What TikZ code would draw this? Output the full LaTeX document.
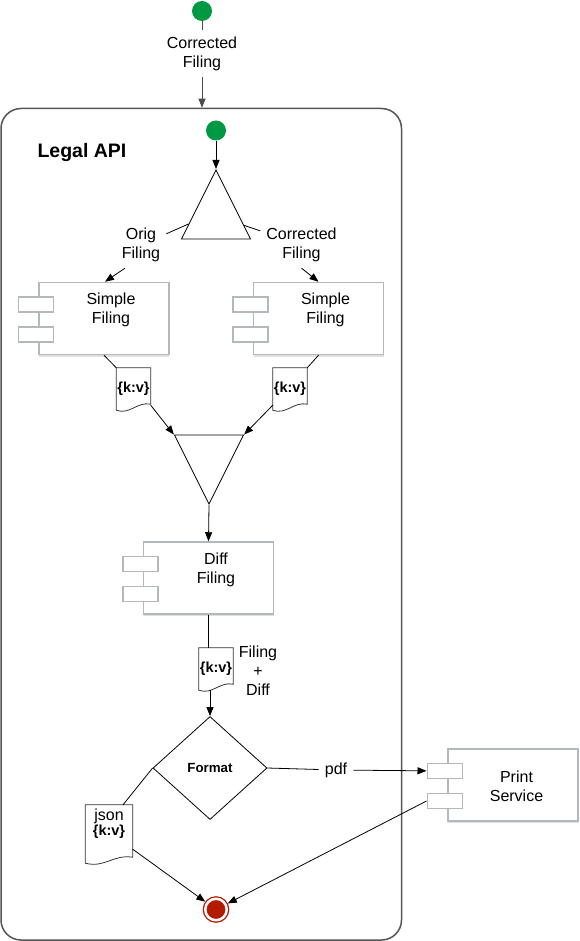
\documentclass[tikz,border=0pt]{standalone}
\usepackage{fontspec}
\setmainfont{Liberation Sans}
\usepackage{tikz}
\usetikzlibrary{arrows.meta,positioning,calc,shapes.geometric,shadows}
\definecolor{startgreen}{HTML}{009943}
\definecolor{endred}{HTML}{B41A00}
\definecolor{boxgray}{HTML}{B3B8BD}
\definecolor{framegray}{HTML}{555555}
\tikzset{
  >={Triangle[length=9pt,width=7pt]},
  startdot/.style={circle, fill=startgreen, minimum size=20pt, inner sep=0pt},
  stopdot/.style={circle, fill=endred, draw=endred, double=white, double distance=2.5pt, line width=1.3pt, minimum size=21.5pt, inner sep=0pt, outer sep=2.5pt},
  comp/.style={draw=boxgray, fill=white, line width=1.5pt, minimum width=130pt, minimum height=72pt, inner sep=0pt,
    drop shadow={shadow xshift=0pt, shadow yshift=-2pt, fill=black!12, opacity=1}},
  port/.style={draw=boxgray, fill=white, line width=1.5pt, minimum width=35pt, minimum height=15pt, inner sep=0pt},
  comptext/.style={align=center, font=\fontsize{16}{19}\selectfont, inner sep=0pt},
  lbl/.style={align=center, font=\fontsize{16}{19}\selectfont, inner sep=6pt},
  docnode/.style={minimum width=34pt, minimum height=42pt, inner sep=0pt, align=center, font=\bfseries\fontsize{14.5}{17}\selectfont},
  docline/.style={draw=black!80, line width=0.8pt},
  tri/.style={isosceles triangle, isosceles triangle stretches, draw, line width=0.8pt, minimum width=69pt, minimum height=69pt, inner sep=0pt},
  decide/.style={diamond, draw, line width=0.8pt, minimum width=114pt, minimum height=103pt, inner sep=0pt, font=\bfseries\fontsize{13.3}{16}\selectfont},
  link/.style={line width=0.8pt},
  flow/.style={->, line width=0.8pt},
}
\begin{document}
\begin{tikzpicture}[x=1pt, y=-1pt]
  \useasboundingbox (0,0) rectangle (579,941);

  % outer frame
  \node[draw=framegray, line width=1.5pt, rounded corners=20pt, minimum width=400.5pt, minimum height=831.5pt, inner sep=0pt] (api) at (201.25,524.25) {};
  \node[font=\bfseries\fontsize{19.5}{23}\selectfont, inner sep=0pt] (title) at (82,153) {Legal API};

  \node[startdot] (start1) at (202,11) {};
  \node[lbl] (inlbl) at (202,53.5) {Corrected\\Filing};
  \node[startdot] (start2) at (216,130.5) {};

  \node[tri, shape border rotate=90, anchor=apex] (split) at (216,169) {};
  \node[lbl] (orig) at (141,245) {Orig\\Filing};
  \node[lbl] (corr) at (301.5,245) {Corrected\\Filing};

  \node[comp] (sf1) at (104,318.5) {};
  \node[port] (sf1a) at ($(sf1.west)+(-2.5,-14)$) {};
  \node[port] (sf1b) at ($(sf1.west)+(-2.5,16)$) {};
  \node[comptext] (sf1t) at ([shift={(7,-8.5)}]sf1.center) {Simple\\Filing};

  \node[comp] (sf2) at (318.5,318.5) {};
  \node[port] (sf2a) at ($(sf2.west)+(-2.5,-14)$) {};
  \node[port] (sf2b) at ($(sf2.west)+(-2.5,16)$) {};
  \node[comptext] (sf2t) at ([shift={(7,-8.5)}]sf2.center) {Simple\\Filing};

  \node[docnode] (kv1) at (133.5,389) {\{k:v\}};
  \node[docnode] (kv2) at (290,389) {\{k:v\}};

  \node[tri, shape border rotate=270, anchor=apex] (merge) at (209,505) {};

  \node[comp] (diff) at (208.5,578) {};
  \node[port] (diffa) at ($(diff.west)+(-2.5,-14)$) {};
  \node[port] (diffb) at ($(diff.west)+(-2.5,16)$) {};
  \node[comptext] (difft) at ([shift={(7.5,-8)}]diff.center) {Diff\\Filing};

  \node[docnode] (kv3) at (216,669) {\{k:v\}};
  \node[lbl, inner sep=0pt] (fd) at (258,671) {Filing\\+\\Diff};

  \node[decide] (fmt) at (210,768) {Format};
  \node[lbl] (pdf) at (336,770) {pdf};

  \node[comp] (ps) at (513,785) {};
  \node[port] (psa) at ($(ps.west)+(-2.5,-14)$) {};
  \node[port] (psb) at ($(ps.west)+(-2.5,16)$) {};
  \node[comptext] (pst) at ([shift={(3.5,1)}]ps.center) {Print\\Service};

  \node[docnode, minimum width=47pt, minimum height=38pt, font=\fontsize{16}{19}\selectfont] (json) at (109,824) {json\\[-4pt]{\bfseries\fontsize{14.5}{17}\selectfont\{k:v\}}};

  \node[stopdot] (stop) at (216,909.5) {};

  % document outlines
  \foreach \d/\e in {kv1/0,kv2/0,kv3/0,json/20}{
    \draw[docline] (\d.north west) -- (\d.north east) -- ($(\d.south east)+(0,\e-6)$)
      .. controls ($(\d.south)+(4,\e-9)$) and ($(\d.south)+(-4,\e+5)$) .. ($(\d.south west)+(0,\e)$) -- cycle;
  }

  % connectors
  \draw[link, black!70] (start1) -- (inlbl);
  \draw[flow, black!70] (inlbl) -- (inlbl |- api.north);
  \draw[flow] (start2) -- (split.apex);
  \draw[link] (orig) -- ($(split.apex)!0.78!(split.left corner)$);
  \draw[link] (corr) -- ($(split.apex)!0.8!(split.right corner)$);
  \draw[flow] ([xshift=-16pt]orig.south) -- ([xshift=1pt]sf1.north);
  \draw[flow] (corr.south) -- (sf2.north);
  \draw[link] (sf1.south) -- (kv1.north west);
  \draw[link] (sf2.south) -- (kv2.north east);
  \draw[flow] ($(kv1.south east)+(0,-5)$) -- (merge.right corner);
  \draw[flow] ($(kv2.south west)+(0,-5)$) -- (merge.left corner);
  \draw[flow] (merge.apex) -- (diff.north);
  \draw[link] (diff.south) -- (diff.south |- kv3.north);
  \draw[flow] (kv3.south -| fmt.north) -- (fmt.north);
  \draw[link] (fmt.east) -- (pdf);
  \draw[flow] (pdf) -- (psa);
  \draw[link] (fmt.west) -- ([xshift=14pt]json.north);
  \draw[flow] ($(json.south east)+(0,6)$) -- (stop);
  \draw[flow] (psb.west) -- (stop);
\end{tikzpicture}
\end{document}
